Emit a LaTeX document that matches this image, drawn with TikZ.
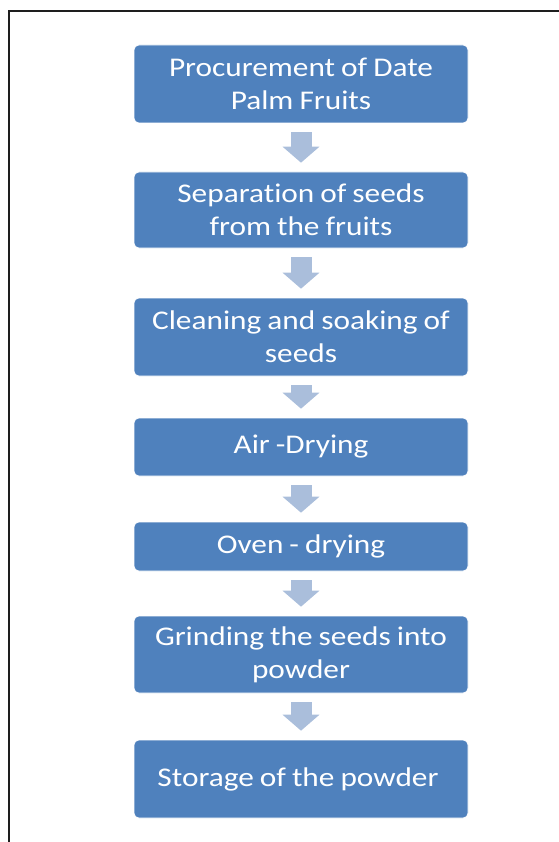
\documentclass[tikz,border=0pt]{standalone}
\usepackage{fontspec}
\setmainfont{Carlito}
\newfontfamily\stagefont[FakeStretch=1.16, Ligatures=NoCommon, WordSpace=0.85]{Carlito}
\usetikzlibrary{arrows.meta}
\definecolor{stageblue}{RGB}{79,129,189}
\definecolor{flowblue}{RGB}{170,190,219}
\definecolor{framegray}{RGB}{30,30,30}
\tikzset{
  stage/.style={fill=stageblue, draw=white, line width=0.6pt, rounded corners=5pt,
    minimum width=334pt, inner sep=0pt, align=center, text=white,
    font=\stagefont\fontsize{27}{33.4}\selectfont},
  flow/.style={flowblue, line width=21pt,
    -{Triangle[width=36pt, length=16pt]}, shorten <=9pt, shorten >=9pt}
}

\begin{document}
\begin{tikzpicture}[x=1pt, y=-1pt]
  \useasboundingbox (0,0) rectangle (558,842);
  % outer frame, cut off at the right and at the bottom
  \draw [framegray, line width=2.4pt] (9,11) rectangle (600,900);

  \foreach \n/\y/\h/\txt in
  {
    s1/84/78/{Procurement of Date\\Palm Fruits},
    s2/210/76/{Separation of seeds\\from the fruits},
    s3/337/78/{Cleaning and soaking of\\seeds},
    s4/447/58/{Air -Drying},
    s5/546.5/49/{Oven - drying},
    s6/654.5/77/{Grinding the seeds into\\powder},
    s7/779/78/{Storage of the powder}
  }
  {
    \node [stage, minimum height=\h pt] (\n) at (301,\y) {\txt};
  }

  \foreach \a/\b in {s1/s2, s2/s3, s3/s4, s4/s5, s5/s6, s6/s7}
  {
    \draw [flow] (\a.south) -- (\b.north);
  }
\end{tikzpicture}
\end{document}
